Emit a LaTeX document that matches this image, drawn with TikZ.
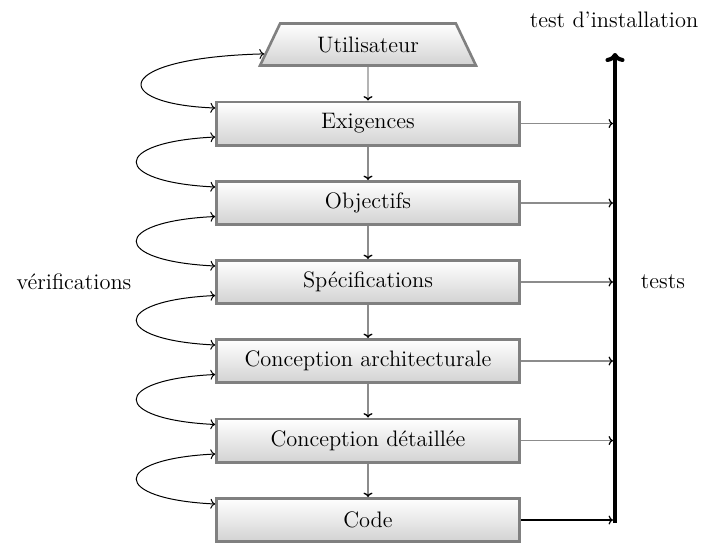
\documentclass[tikz,border=0pt]{standalone}
\usepackage{fontspec}
\usetikzlibrary{shapes.geometric,arrows.meta,calc}
\begin{document}
\begin{tikzpicture}[x=0.5pt,y=-0.5pt,
  every node/.style={font=\fontsize{11.2}{13}\selectfont},
  stage/.style={draw=gray, line width=1.3pt, top color=white, bottom color=gray!35,
    minimum width=151.5pt, minimum height=21.7pt, inner sep=0pt},
  link/.style={draw=gray!90, line width=0.7pt, -{To[color=black,length=2.2pt,width=4.5pt]}},
  verif/.style={{To[length=2.4pt,width=5pt]}-{To[length=2.4pt,width=5pt]}, line width=0.5pt},
  bar/.style={line width=2pt, -{To[length=4.5pt,width=9.5pt]}}]
\useasboundingbox (0,0) rectangle (702,543);
\node[stage, trapezium, trapezium angle=54, trapezium stretches=true,
  minimum width=108.5pt, minimum height=21pt] (user) at (368,44.5) {Utilisateur};
\node[stage] (exig) at (368,123.5) {Exigences};
\node[stage] (obj) at (368,203) {Objectifs};
\node[stage] (spec) at (368,282) {Spécifications};
\node[stage] (arch) at (368,361) {Conception architecturale};
\node[stage] (det) at (368,440.5) {Conception détaillée};
\node[stage] (code) at (368,520) {Code};
\coordinate (bartop) at (615,53);
\coordinate (barbot) at (615,523);
\draw[bar] (barbot) -- (bartop);
\node (tinst) at (614,20) {test d’installation};
\node (tests) at (663,282) {tests};
\node (verifs) at (74,282) {vérifications};
% vertical links
\draw[link] (user.south) -- (exig.north);
\foreach \a/\b in {exig/obj,obj/spec,spec/arch,arch/det,det/code}
  \draw[link] (\a.south) -- (\b.north);
% test links
\foreach \a in {exig,obj,spec,arch,det}
  \draw[link, line width=0.6pt, shorten >=1pt] (\a.east) -- (\a.east -| bartop);
\draw[link, line width=0.6pt, draw=black, shorten >=1pt] (code.east) -- (code.east -| bartop);
% verification curves
\draw[verif] ($(user.top left corner)!0.71!(user.bottom left corner)$)
  .. controls +(-154,4) and +(-106,-4) .. ($(exig.west)+(0,-15.5)$);
\foreach \a/\b in {exig/obj,obj/spec,spec/arch,arch/det,det/code}
  \draw[verif] ($(\a.west)+(0,13.5)$) .. controls +(-105,5) and +(-105,-5) .. ($(\b.west)+(0,-16)$);
\end{tikzpicture}
\end{document}
